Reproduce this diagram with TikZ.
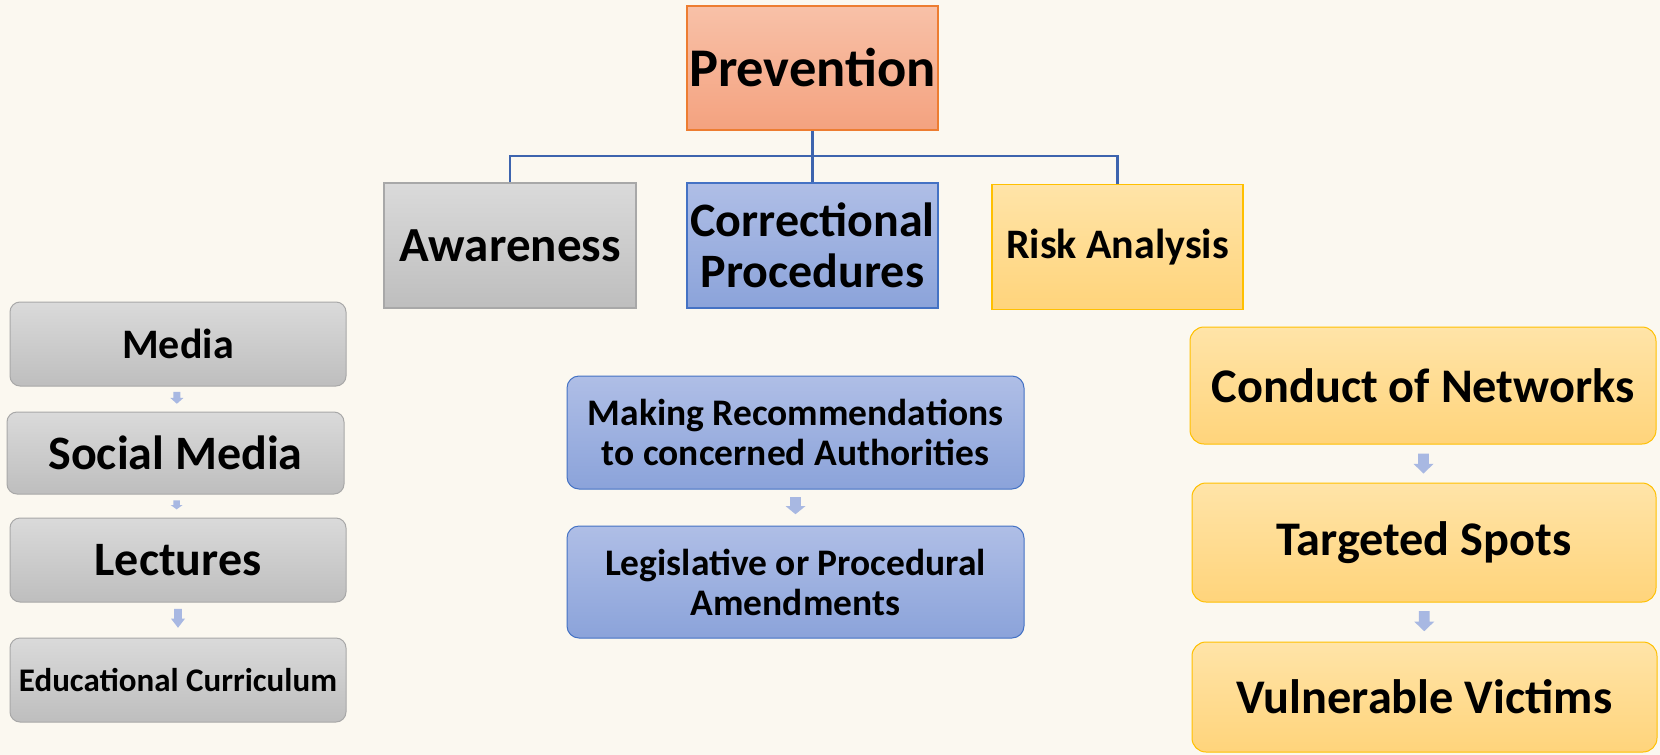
\documentclass[tikz,border=0pt]{standalone}
\usepackage{fontspec}
\setmainfont{Carlito}
\usetikzlibrary{calc}
\definecolor{bg}{HTML}{FBF8F0}
\definecolor{orTop}{HTML}{F8C1A8}
\definecolor{orBot}{HTML}{F4A27F}
\definecolor{orLine}{HTML}{ED7D31}
\definecolor{grTop}{HTML}{DADADA}
\definecolor{grBot}{HTML}{BEBEBE}
\definecolor{grLine}{HTML}{A8A8A8}
\definecolor{blTop}{HTML}{AFBEE6}
\definecolor{blBot}{HTML}{8BA3DA}
\definecolor{blLine}{HTML}{4472C4}
\definecolor{yeTop}{HTML}{FFE4A8}
\definecolor{yeBot}{HTML}{FFD47B}
\definecolor{yeLine}{HTML}{FFC000}
\definecolor{arr}{HTML}{A8B8E2}
\definecolor{conn}{HTML}{3D64AE}
\tikzset{
  fs/.style 2 args={font=\bfseries\fontsize{#1}{#2}\selectfont},
  box/.style={inner sep=0pt, align=center, line width=1.5pt},
  orbox/.style={box, draw=orLine, top color=orTop, bottom color=orBot},
  grbox/.style={box, draw=grLine, top color=grTop, bottom color=grBot},
  blbox/.style={box, draw=blLine, top color=blTop, bottom color=blBot},
  yebox/.style={box, draw=yeLine, top color=yeTop, bottom color=yeBot},
  connline/.style={draw=conn, line width=2.2pt},
  pics/blk/.style 2 args={code={
    \fill[arr] (-0.27*#1,-0.5*#2) -- (0.27*#1,-0.5*#2) -- (0.27*#1,0.02*#2)
      -- (0.5*#1,0.02*#2) -- (0,0.5*#2) -- (-0.5*#1,0.02*#2)
      -- (-0.27*#1,0.02*#2) -- cycle;
  }}
}
\begin{document}
\begin{tikzpicture}[x=1pt,y=-1pt]
\fill[bg] (0,0) rectangle (1660,755);
\useasboundingbox (0,0) rectangle (1660,755);

% top level
\node[orbox, fs={54.5}{58}, minimum width=251, minimum height=124] (prev) at (812.5,68) {Prevention};
\node[grbox, fs={49}{51}, minimum width=252, minimum height=125] (aw) at (510,245.5) {Awareness};
\node[blbox, fs={48}{51}, minimum width=251, minimum height=125] (corr) at (812.5,245.5) {Correctional\\Procedures};
\node[yebox, fs={42}{44}, minimum width=251, minimum height=125] (risk) at (1117.5,247) {Risk Analysis};

% connectors
\coordinate (bus) at (0,156);
\draw[connline] (prev.south) -- (prev.south |- bus);
\draw[connline] (aw.north) -- (aw.north |- bus) -| (risk.north);
\draw[connline] (prev.south |- bus) -- (corr.north);

% left column
\node[grbox, rounded corners=10pt, line width=1pt, fs={42}{46}, minimum width=336, minimum height=84] (media) at (178,344) {Media};
\node[grbox, rounded corners=10pt, line width=1pt, fs={48}{52}, minimum width=337, minimum height=82] (social) at (175.5,453) {Social Media};
\node[grbox, rounded corners=10pt, line width=1pt, fs={48}{52}, minimum width=336, minimum height=84] (lect) at (178,560) {Lectures};
\node[grbox, rounded corners=10pt, line width=1pt, fs={33}{36}, minimum width=336, minimum height=84] (edu) at (178,680) {Educational Curriculum};
\pic at ($(media.south)!0.45!(social.north)$) {blk={13}{12}};
\pic at ($(social.south)!0.45!(lect.north)$) {blk={12}{9}};
\pic at ($(lect.south)!0.45!(edu.north)$) {blk={14}{19}};

% middle column
\node[blbox, rounded corners=12pt, line width=1pt, fs={37.5}{40}, minimum width=457, minimum height=113] (rec) at (795.5,432.5) {Making Recommendations\\to concerned Authorities};
\node[blbox, rounded corners=12pt, line width=1pt, fs={37.5}{40}, minimum width=457, minimum height=112] (leg) at (795.5,582) {Legislative or Procedural\\Amendments};
\pic at ($(rec.south)!0.45!(leg.north)$) {blk={20}{17}};

% right column
\node[yebox, rounded corners=14pt, line width=1pt, fs={48.3}{52}, minimum width=466, minimum height=117] (cond) at (1423,385.5) {Conduct of Networks};
\node[yebox, rounded corners=14pt, line width=1pt, fs={48.3}{52}, minimum width=464, minimum height=119] (targ) at (1424,542.5) {Targeted Spots};
\node[yebox, rounded corners=14pt, line width=1pt, fs={48.3}{52}, minimum width=465, minimum height=110] (vuln) at (1424.5,697) {Vulnerable Victims};
\pic at ($(cond.south)!0.5!(targ.north)$) {blk={20}{20}};
\pic at ($(targ.south)!0.48!(vuln.north)$) {blk={20}{20}};
\end{tikzpicture}
\end{document}
